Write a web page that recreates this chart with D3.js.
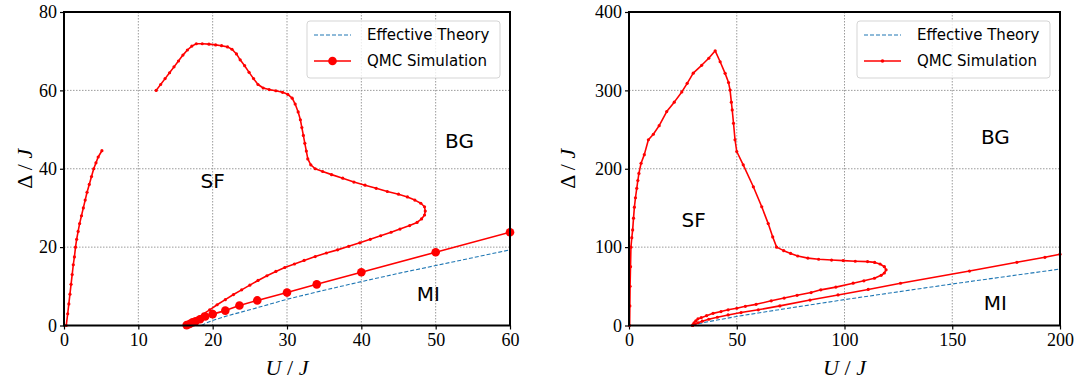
<!DOCTYPE html>
<html>
<head>
<meta charset="utf-8">
<script src="https://cdn.jsdelivr.net/npm/d3@7"></script>
<style>
  body { margin: 0; background: #fff; }
  .tick text { font-family: "Liberation Serif", serif; font-size: 18px; fill: #000; }
  .lab { font-family: "DejaVu Sans", sans-serif; font-size: 20px; fill: #000; }
  .leg { font-family: "DejaVu Sans", sans-serif; font-size: 15px; fill: #000; }
  .axl { font-family: "Liberation Serif", serif; font-size: 22px; fill: #000; }
</style>
</head>
<body>
<svg id="chart" width="1086" height="385"></svg>
<script>
// ---- left panel data (U/J, Delta/J) ----
const leftXTicks = [0, 10, 20, 30, 40, 50, 60];
const leftYTicks = [0, 20, 40, 60, 80];

// small branch near U=0
const leftCurveA_U = [0.3,0.5,0.65,0.8,0.95,1.1,1.25,1.4,1.55,1.7,1.9,2.1,2.35,2.6,2.85,3.1,3.4,3.7,4.0,4.3,4.6,5.1];
const leftCurveA_D = [0,3,5.5,8,10.5,13,15.5,17.5,20,22,24,26,28,30,32,34,36,38,40,41.5,43,44.6];

// SF / BG boundary
const leftCurveB_U = [12.4,13,13.6,14.2,14.8,15.4,16,16.6,17.2,17.8,18.6,19.5,20.4,21.2,22,22.6,23.2,23.7,24.3,24.9,25.5,26.1,26.8,27.6,28.5,29.4,30.1,30.7,31.1,31.5,31.8,32.0,32.2,32.4,32.6,32.8,33.2,33.8,34.8,36,37.5,39,40.5,42,43.5,45,46.2,47.2,48,48.5,48.6,48.5,48.1,47.5,46.5,45.2,44,42.6,41.2,39.8,38.3,36.8,35.3,33.8,32.3,31,29.7,28.5,27.3,26.1,25,23.9,22.8,21.7,20.6,19.6,18.7,17.9,17.2,16.6];
const leftCurveB_D = [60,61.5,63,64.5,66,67.5,69,70.3,71.3,71.9,71.9,71.8,71.6,71.4,71.1,70.5,69.3,67.8,66.3,64.6,63,61.5,60.6,60.2,59.9,59.5,59,58,56.5,54.5,52.5,50.5,48.5,46.5,44.5,42.5,41,40,39.3,38.5,37.6,36.6,35.8,35,34.2,33.5,32.8,32,31.2,30.3,29.2,28.2,27.2,26.3,25.5,24.6,23.8,22.9,22,21.1,20.2,19.3,18.5,17.6,16.6,15.7,14.8,13.8,12.7,11.5,10.3,9.1,7.9,6.6,5.3,4.0,2.9,1.8,0.9,0.2];

// MI boundary, QMC (big markers)
const leftCurveC_U = [16.5,16.9,17.3,17.7,18.3,19,20,21.7,23.6,26,30,34,40,50,60];
const leftCurveC_D = [0.1,0.4,0.8,1.1,1.6,2.3,2.9,3.8,5.1,6.4,8.4,10.5,13.6,18.7,23.8];

// effective theory
const leftTheory_U = [18.5,19,20,22,25,30,35,40,45,50,55,60];
const leftTheory_D = [0,0.5,1.3,2.5,4.0,6.7,9.0,11.2,13.3,15.3,17.3,19.3];

// ---- right panel data ----
const rightXTicks = [0, 50, 100, 150, 200];
const rightYTicks = [0, 100, 200, 300, 400];

const rightCurveB_U = [0.3,0.4,0.5,0.7,0.9,1.3,1.7,2.1,2.5,3.0,3.6,4.1,4.6,5.6,7.1,9,11.3,14,17.5,21,24.5,27,29.8,33.7,37,40,42.3,44.6,46.2,46.9,47.5,47.9,48.5,49.2,50,53,57.7,61.6,64.6,66.7,68.5,71.8,75,78.3,83,88,94,99.4,105,110.7,114,116.5,118.5,119.3,118.5,117,113.9,109,104,96,89,84.5,78,72,66,59,54,50,46,42.7,39,36,33.5,32,31,30.2,29.7,29.5];
const rightCurveB_D = [0,25,50,75,100,112,122,137,151,163,175,185,194,207,218,237,244,255,273,285,298,309,322,332,341,350.5,336.5,321.7,310,300.4,285,275,258,237,222,205,177,151.5,130,113,100,95.5,92,88.7,86,84.5,83.5,82.8,82,81.5,80.5,78.5,75,71,67,64,60.3,57,54,49,45.5,42,38.5,35,31.5,27,24.5,22,20,17.8,15.5,12.5,10,8.5,6,3.5,1,0];

const rightCurveC_U = [29.5,30.5,32,34,37,41,46,52,60,70,84,97,111,126,158,180,193,200];
const rightCurveC_D = [0,1.5,3.5,5.5,8,10.5,13.5,16.5,20,25,32.5,39,46,53.9,69.5,80.6,87,91];

const rightTheory_U = [29.5,31,35,40,50,60,75,100,125,150,175,200];
const rightTheory_D = [0,1.5,4,6.5,11.5,16,22.5,33,43,53,62.5,72];

const svg = d3.select("#chart");

function zip(us, ds) { return us.map((u, i) => ({u: u, d: ds[i]})); }

function drawPanel(cfg) {
  const x = d3.scaleLinear().domain(cfg.xDomain).range([cfg.left, cfg.right]);
  const y = d3.scaleLinear().domain(cfg.yDomain).range([cfg.bottom, cfg.top]);
  const g = svg.append("g");

  // grid
  g.append("g").selectAll("line").data(cfg.xTicks).join("line")
    .attr("x1", d => x(d)).attr("x2", d => x(d))
    .attr("y1", cfg.top).attr("y2", cfg.bottom)
    .attr("stroke", "#909090").attr("stroke-width", 0.9).attr("stroke-dasharray", "1.5,1.5");
  g.append("g").selectAll("line").data(cfg.yTicks).join("line")
    .attr("y1", d => y(d)).attr("y2", d => y(d))
    .attr("x1", cfg.left).attr("x2", cfg.right)
    .attr("stroke", "#909090").attr("stroke-width", 0.9).attr("stroke-dasharray", "1.5,1.5");

  // axes
  const xa = g.append("g").attr("transform", `translate(0,${cfg.bottom})`)
    .call(d3.axisBottom(x).tickValues(cfg.xTicks).tickSize(4).tickPadding(4));
  const ya = g.append("g").attr("transform", `translate(${cfg.left},0)`)
    .call(d3.axisLeft(y).tickValues(cfg.yTicks).tickSize(4).tickPadding(3));
  [xa, ya].forEach(a => {
    a.select(".domain").remove();
    a.selectAll(".tick line").attr("stroke", "#000").attr("stroke-width", 1.2);
  });

  const line = d3.line().x(p => x(p.u)).y(p => y(p.d));

  // theory (dashed)
  g.append("path").datum(cfg.theory)
    .attr("fill", "none").attr("stroke", "#1f77b4").attr("stroke-width", 1.1)
    .attr("stroke-dasharray", "4,2").attr("d", line);

  // QMC curves
  cfg.curves.forEach(c => {
    g.append("path").datum(c.pts)
      .attr("fill", "none").attr("stroke", "red").attr("stroke-width", 1.6)
      .attr("stroke-linejoin", "round").attr("d", line);
    g.append("g").selectAll("circle").data(c.pts).join("circle")
      .attr("cx", p => x(p.u)).attr("cy", p => y(p.d)).attr("r", c.r)
      .attr("fill", "red");
  });

  // frame
  g.append("rect").attr("x", cfg.left).attr("y", cfg.top)
    .attr("width", cfg.right - cfg.left).attr("height", cfg.bottom - cfg.top)
    .attr("fill", "none").attr("stroke", "#000").attr("stroke-width", 2);

  // region labels
  cfg.labels.forEach(l => {
    g.append("text").attr("class", "lab").attr("x", x(l.u)).attr("y", y(l.d))
      .attr("text-anchor", "middle").attr("dominant-baseline", "central").text(l.t);
  });

  // axis labels
  const xl = g.append("text").attr("class", "axl")
    .attr("x", (cfg.left + cfg.right) / 2).attr("y", 375).attr("text-anchor", "middle");
  xl.append("tspan").attr("font-style", "italic").text("U");
  xl.append("tspan").text(" / ");
  xl.append("tspan").attr("font-style", "italic").text("J");

  const yl = g.append("text").attr("class", "axl")
    .attr("transform", `translate(${cfg.ylabX},${(cfg.top + cfg.bottom) / 2}) rotate(-90)`)
    .attr("text-anchor", "middle");
  yl.append("tspan").text("Δ / ");
  yl.append("tspan").attr("font-style", "italic").text("J");

  // legend
  const lx = cfg.right - 10 - 193, ly = cfg.top + 9;
  const lg = g.append("g").attr("transform", `translate(${lx},${ly})`);
  lg.append("rect").attr("width", 193).attr("height", 57).attr("rx", 3)
    .attr("fill", "#fff").attr("fill-opacity", 0.8).attr("stroke", "#d5d5d5");
  lg.append("line").attr("x1", 7).attr("x2", 44).attr("y1", 14).attr("y2", 14)
    .attr("stroke", "#1f77b4").attr("stroke-width", 1.1).attr("stroke-dasharray", "4,2");
  lg.append("line").attr("x1", 7).attr("x2", 44).attr("y1", 40).attr("y2", 40)
    .attr("stroke", "red").attr("stroke-width", 1.6);
  lg.append("circle").attr("cx", 25.5).attr("cy", 40).attr("r", cfg.legendR).attr("fill", "red");
  lg.append("text").attr("class", "leg").attr("x", 60).attr("y", 14)
    .attr("dominant-baseline", "central").text("Effective Theory");
  lg.append("text").attr("class", "leg").attr("x", 60).attr("y", 40)
    .attr("dominant-baseline", "central").text("QMC Simulation");
}

drawPanel({
  left: 64, right: 510, top: 12, bottom: 325.5, ylabX: 32,
  xDomain: [0, 60], yDomain: [0, 80],
  xTicks: leftXTicks, yTicks: leftYTicks,
  theory: zip(leftTheory_U, leftTheory_D),
  curves: [
    {pts: zip(leftCurveA_U, leftCurveA_D), r: 1.6},
    {pts: zip(leftCurveB_U, leftCurveB_D), r: 1.6},
    {pts: zip(leftCurveC_U, leftCurveC_D), r: 4.3}
  ],
  legendR: 4.3,
  labels: [{t: "SF", u: 20, d: 37}, {t: "BG", u: 53.2, d: 47}, {t: "MI", u: 49, d: 8}]
});

drawPanel({
  left: 629, right: 1060, top: 12, bottom: 325.5, ylabX: 575,
  xDomain: [0, 200], yDomain: [0, 400],
  xTicks: rightXTicks, yTicks: rightYTicks,
  theory: zip(rightTheory_U, rightTheory_D),
  curves: [
    {pts: zip(rightCurveB_U, rightCurveB_D), r: 1.6},
    {pts: zip(rightCurveC_U, rightCurveC_D), r: 1.6}
  ],
  legendR: 1.8,
  labels: [{t: "SF", u: 30, d: 135}, {t: "BG", u: 170, d: 241}, {t: "MI", u: 170, d: 29}]
});
</script>
</body>
</html>
